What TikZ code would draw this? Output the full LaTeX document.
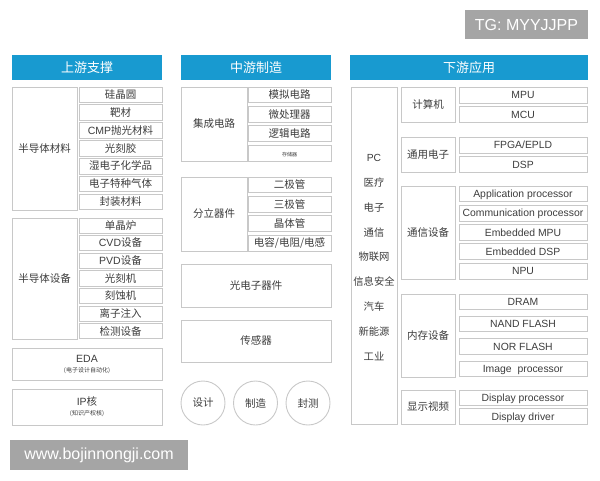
\documentclass[tikz,border=0pt]{standalone}
\usepackage{fontspec}
\setmainfont{Noto Sans CJK SC}
\newfontfamily\latinfont{Liberation Sans}
\definecolor{hdrblue}{RGB}{24,154,208}
\definecolor{cellgray}{RGB}{200,200,200}
\definecolor{txtgray}{RGB}{60,60,60}
\definecolor{taggray}{RGB}{165,165,165}

\begin{document}
\begin{tikzpicture}[x=1pt,y=-1pt]  % one unit = one pixel of the layout, y runs downwards

    % Define some common styles
    \tikzset{
        header/.style={fill=hdrblue, text=white, inner sep=0pt, minimum height=25pt, font=\fontsize{13}{15}\selectfont},
        cell/.style={draw=cellgray, line width=0.9pt, inner sep=0pt, text=txtgray, text height=0.85em, text depth=0.12em, font=\fontsize{10.5}{12}\selectfont},
        latin/.style={font=\latinfont\fontsize{10.4}{12}\selectfont},
        stage/.style={circle, draw=cellgray, line width=0.9pt, minimum size=44pt, inner sep=0pt, text=txtgray, font=\fontsize{10.5}{12}\selectfont},
        tag/.style={fill=taggray, text=white, inner sep=0pt, font=\latinfont\fontsize{16}{18}\selectfont}
    }

    \useasboundingbox (0,0) rectangle (600,480);

    % Watermark tags
    \node[tag, minimum width=123pt, minimum height=29pt] (tgtag) at (526.5,24.5) {TG: MYYJJPP};
    \node[tag, minimum width=178pt, minimum height=30pt] (webtag) at (99,455) {www.bojinnongji.com};

    % Column headers
    \node[header, minimum width=150pt] (hdrup) at (87,67.5) {上游支撑};
    \node[header, minimum width=150pt] (hdrmid) at (256,67.5) {中游制造};
    \node[header, minimum width=238pt] (hdrdown) at (469,67.5) {下游应用};

    % Upstream - materials
    \node[cell, minimum width=65pt, minimum height=123pt] (matl) at (44.5,148.5) {半导体材料};
    \foreach \t [count=\i] in {硅晶圆,靶材,{\latinfont CMP}抛光材料,光刻胶,湿电子化学品,电子特种气体,封装材料}
        \node[cell, minimum width=83pt, minimum height=15.4pt] (matl\i) at (120.5,{94.7+17.9*(\i-1)}) {\t};

    % Upstream - equipment
    \node[cell, minimum width=65pt, minimum height=121pt] (equip) at (44.5,278.5) {半导体设备};
    \foreach \t [count=\i] in {单晶炉,{\latinfont CVD}设备,{\latinfont PVD}设备,光刻机,刻蚀机,离子注入,检测设备}
        \node[cell, minimum width=83pt, minimum height=15.1pt] (equip\i) at (120.5,{225.55+17.64*(\i-1)}) {\t};

    % Upstream - EDA and IP core
    \node[cell, text height=, text depth=, minimum width=150pt, minimum height=32pt, align=center] (eda) at (87,364)
        {{\latinfont EDA}\\[-2pt]{\fontsize{6}{7}\selectfont (电子设计自动化)}};
    \node[cell, text height=, text depth=, minimum width=150pt, minimum height=36pt, align=center] (ipcore) at (87,407)
        {{\latinfont IP}核\\[-2pt]{\fontsize{6}{7}\selectfont (知识产权核)}};

    % Midstream - integrated circuits
    \node[cell, minimum width=66pt, minimum height=74pt] (ic) at (214,124) {集成电路};
    \foreach \t [count=\i] in {模拟电路,微处理器,逻辑电路}
        \node[cell, minimum width=83pt, minimum height=15.9pt] (ic\i) at (289.5,{94.95+19.4*(\i-1)}) {\t};
    \node[cell, minimum width=83pt, minimum height=15.9pt, font=\fontsize{5}{6}\selectfont] (ic4) at (289.5,153.15) {存储器};

    % Midstream - discrete devices
    \node[cell, minimum width=66pt, minimum height=74pt] (disc) at (214,214) {分立器件};
    \foreach \t [count=\i] in {二极管,三极管,晶体管,电容/电阻/电感}
        \node[cell, minimum width=83pt, minimum height=15.9pt] (disc\i) at (289.5,{184.95+19.4*(\i-1)}) {\t};

    % Midstream - optoelectronics and sensors
    \node[cell, minimum width=150pt, minimum height=43pt] (opto) at (256,285.5) {光电子器件};
    \node[cell, minimum width=150pt, minimum height=42pt] (sensor) at (256,341) {传感器};

    % Process stages
    \node[stage] (design) at (203,403) {设计};
    \node[stage] (fab) at (255.5,403) {制造};
    \node[stage] (pack) at (308,403) {封测};

    % Downstream - application fields
    \node[cell, minimum width=46pt, minimum height=337pt] (apps) at (374,255.5) {};
    \foreach \t [count=\i] in {{\latinfont PC},医疗,电子,通信,物联网,信息安全,汽车,新能源,工业}
        \node[text=txtgray, font=\fontsize{10.3}{12}\selectfont] (app\i) at (374,{158+24.75*(\i-1)}) {\t};

    % Downstream - computers
    \node[cell, minimum width=54pt, minimum height=35pt] (comp) at (428,104.5) {计算机};
    \foreach \t [count=\i] in {MPU,MCU}
        \node[cell, latin, minimum width=128pt, minimum height=16pt] (comp\i) at (523,{95+19.5*(\i-1)}) {\t};

    % Downstream - general electronics
    \node[cell, minimum width=54pt, minimum height=35pt] (gen) at (428,154.5) {通用电子};
    \foreach \t [count=\i] in {FPGA/EPLD,DSP}
        \node[cell, latin, minimum width=128pt, minimum height=16pt] (gen\i) at (523,{145+19.5*(\i-1)}) {\t};

    % Downstream - communication equipment
    \node[cell, minimum width=54pt, minimum height=93pt] (comm) at (428,232.5) {通信设备};
    \foreach \t [count=\i] in {Application processor,Communication processor,Embedded MPU,Embedded DSP,NPU}
        \node[cell, latin, minimum width=128pt, minimum height=15.8pt] (comm\i) at (523,{193.9+19.3*(\i-1)}) {\t};

    % Downstream - memory devices
    \node[cell, minimum width=54pt, minimum height=83pt] (mem) at (428,335.5) {内存设备};
    \foreach \t [count=\i] in {DRAM,NAND FLASH,NOR FLASH,Image\ \ processor}
        \node[cell, latin, minimum width=128pt, minimum height=15.5pt] (mem\i) at (523,{301.75+22.4*(\i-1)}) {\t};

    % Downstream - display and video
    \node[cell, minimum width=54pt, minimum height=34pt] (disp) at (428,407) {显示视频};
    \foreach \t [count=\i] in {Display processor,Display driver}
        \node[cell, latin, minimum width=128pt, minimum height=15.5pt] (disp\i) at (523,{397.75+18.75*(\i-1)}) {\t};

\end{tikzpicture}
\end{document}
